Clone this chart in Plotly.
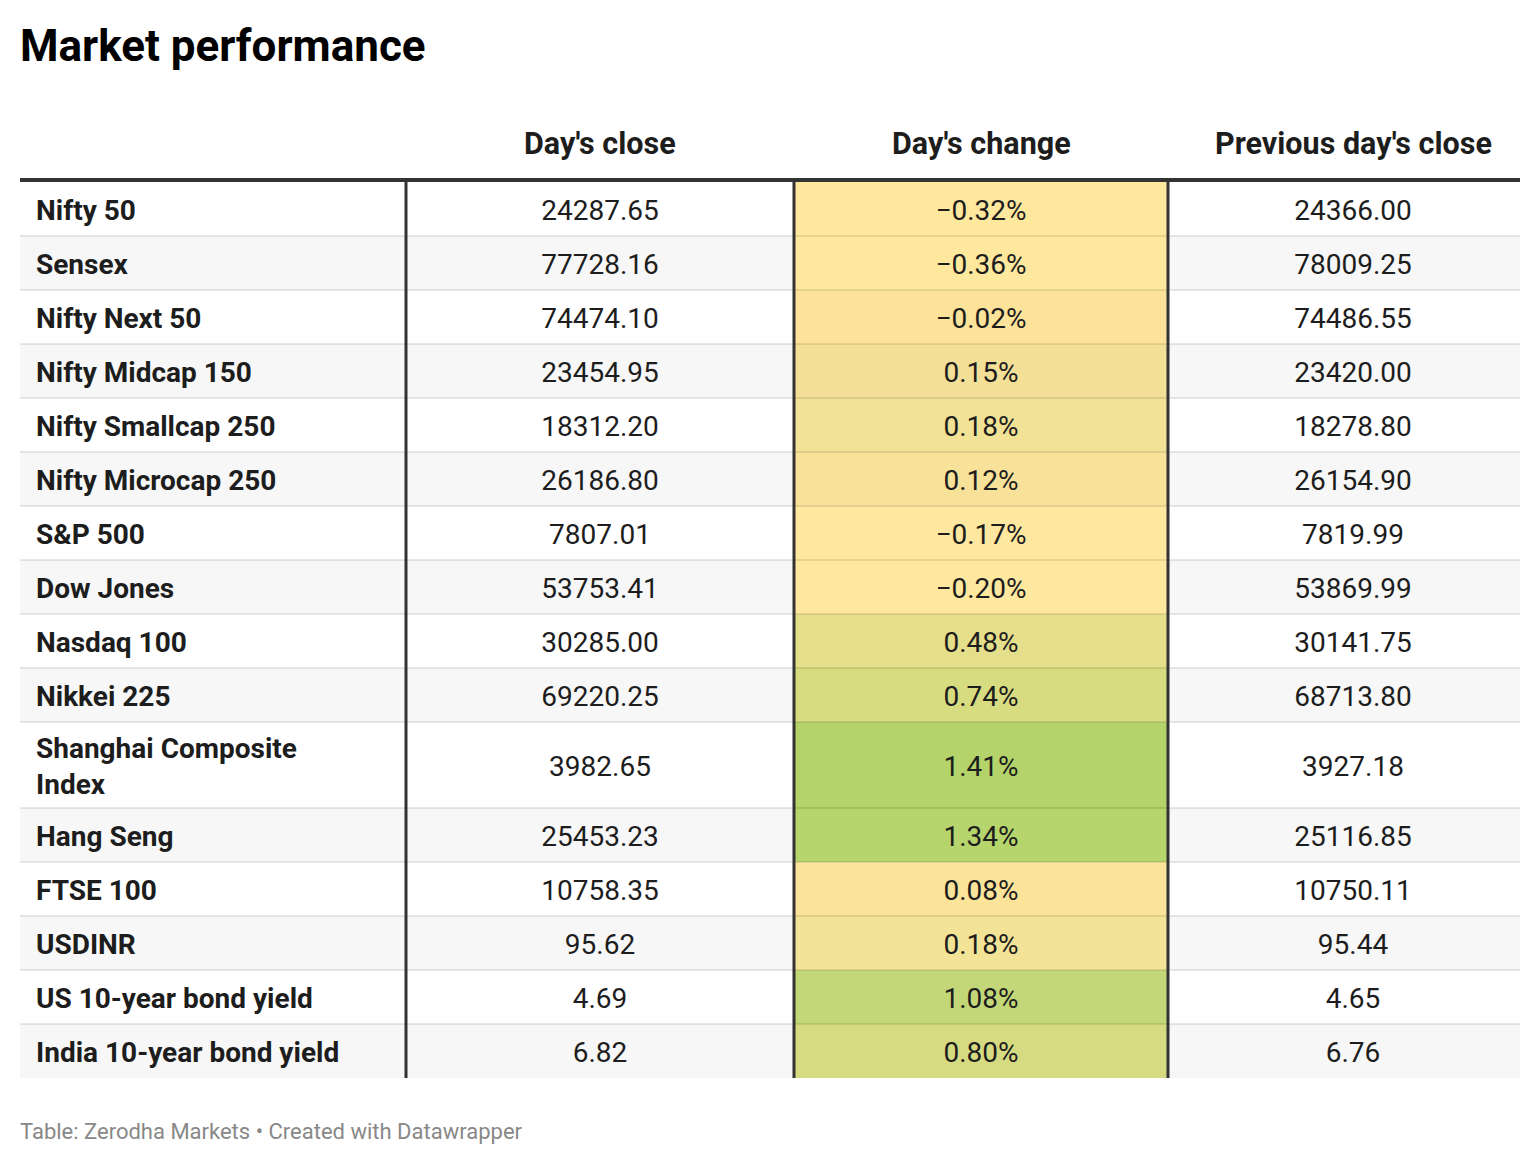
import plotly.graph_objects as go

# table content
columns = ["", "Day's close", "Day's change", "Previous day's close"]
indices = ["Nifty 50", "Sensex", "Nifty Next 50", "Nifty Midcap 150", "Nifty Smallcap 250",
           "Nifty Microcap 250", "S&P 500", "Dow Jones", "Nasdaq 100", "Nikkei 225",
           "Shanghai Composite<br>Index", "Hang Seng", "FTSE 100", "USDINR",
           "US 10-year bond yield", "India 10-year bond yield"]
days_close = ["24287.65", "77728.16", "74474.10", "23454.95", "18312.20", "26186.80", "7807.01",
              "53753.41", "30285.00", "69220.25", "3982.65", "25453.23", "10758.35", "95.62",
              "4.69", "6.82"]
days_change = [-0.32, -0.36, -0.02, 0.15, 0.18, 0.12, -0.17, -0.20, 0.48, 0.74, 1.41, 1.34,
               0.08, 0.18, 1.08, 0.80]
prev_close = ["24366.00", "78009.25", "74486.55", "23420.00", "18278.80", "26154.90", "7819.99",
              "53869.99", "30141.75", "68713.80", "3927.18", "25116.85", "10750.11", "95.44",
              "4.65", "6.76"]

# heat colours of the change column, as shown
change_fill = ["#fee89d", "#fee89d", "#fde39a", "#f3df96", "#f2e296", "#f8e199", "#fee89f",
               "#fee89f", "#e5de8a", "#d8dc81", "#b4d46b", "#b6d56c", "#fbe39a", "#f3e396",
               "#c4d778", "#d6db82"]

W, H = 1540, 1164
FONT = "Roboto, Arial, sans-serif"
INK = "#1d1d1d"

col_edges = [20, 406, 794, 1168, 1520]
text_x = [36, 600, 981, 1353]
table_top = 182
base_h, line_h = 54, 32

# row boundaries from the number of text lines per label
row_tops, row_mid = [], []
y = table_top
for lab in indices:
    h = base_h + line_h * lab.count("<br>")
    row_tops.append(y)
    row_mid.append(y + h / 2 + 4)
    y += h
table_bottom = y

fig = go.Figure()
shapes = []

for i, top in enumerate(row_tops):
    bottom = row_tops[i + 1] if i + 1 < len(row_tops) else table_bottom
    bg = "#ffffff" if i % 2 == 0 else "#f7f7f7"
    shapes.append(dict(type="rect", x0=col_edges[0], x1=col_edges[-1], y0=top, y1=bottom,
                       fillcolor=bg, line_width=0, layer="below"))
    shapes.append(dict(type="rect", x0=col_edges[2], x1=col_edges[3], y0=top, y1=bottom,
                       fillcolor=change_fill[i], line_width=0, layer="below"))
    if i > 0:
        shapes.append(dict(type="line", x0=col_edges[0], x1=col_edges[-1], y0=top, y1=top,
                           line=dict(color="rgba(0,0,0,0.09)", width=2)))

# heavy rules
shapes.append(dict(type="line", x0=col_edges[0], x1=col_edges[-1], y0=180, y1=180,
                   line=dict(color="#333333", width=4)))
for xe in col_edges[1:4]:
    shapes.append(dict(type="line", x0=xe, x1=xe, y0=table_top, y1=table_bottom,
                       line=dict(color="#333333", width=3)))

# cell text
fig.add_trace(go.Scatter(x=[text_x[0]] * len(indices), y=row_mid, text=indices,
                         mode="text", textposition="middle right",
                         textfont=dict(family=FONT, size=28, color=INK, weight=700),
                         hoverinfo="skip"))
fig.add_trace(go.Scatter(x=[text_x[1]] * len(days_close), y=row_mid, text=days_close,
                         mode="text", textposition="middle center",
                         textfont=dict(family=FONT, size=28, color=INK), hoverinfo="skip"))
fig.add_trace(go.Scatter(x=[text_x[2]] * len(days_change), y=row_mid,
                         text=[f"{v:.2f}%".replace("-", "\u2212") for v in days_change],
                         mode="text", textposition="middle center",
                         textfont=dict(family=FONT, size=28, color=INK), hoverinfo="skip"))
fig.add_trace(go.Scatter(x=[text_x[3]] * len(prev_close), y=row_mid, text=prev_close,
                         mode="text", textposition="middle center",
                         textfont=dict(family=FONT, size=28, color=INK), hoverinfo="skip"))

annotations = [
    dict(x=18, y=46, text="Market performance", xanchor="left", yanchor="middle",
         showarrow=False, font=dict(family=FONT, size=44, color="#000000", weight=700)),
    dict(x=18, y=1131, text="Table: Zerodha Markets • Created with Datawrapper",
         xanchor="left", yanchor="middle", showarrow=False,
         font=dict(family=FONT, size=22, color="#888888")),
]
for cx, name in zip(text_x[1:], columns[1:]):
    annotations.append(dict(x=cx, y=143, text=name, xanchor="center", yanchor="middle",
                            showarrow=False,
                            font=dict(family=FONT, size=30.5, color=INK, weight=700)))

fig.update_layout(
    width=W, height=H, margin=dict(l=0, r=0, t=0, b=0),
    paper_bgcolor="white", plot_bgcolor="white", showlegend=False,
    xaxis=dict(range=[0, W], visible=False, fixedrange=True),
    yaxis=dict(range=[H, 0], visible=False, fixedrange=True),
    shapes=shapes, annotations=annotations,
)

fig.write_html("out.html", config={"displayModeBar": False},
               post_script="document.body.style.margin='0';")
